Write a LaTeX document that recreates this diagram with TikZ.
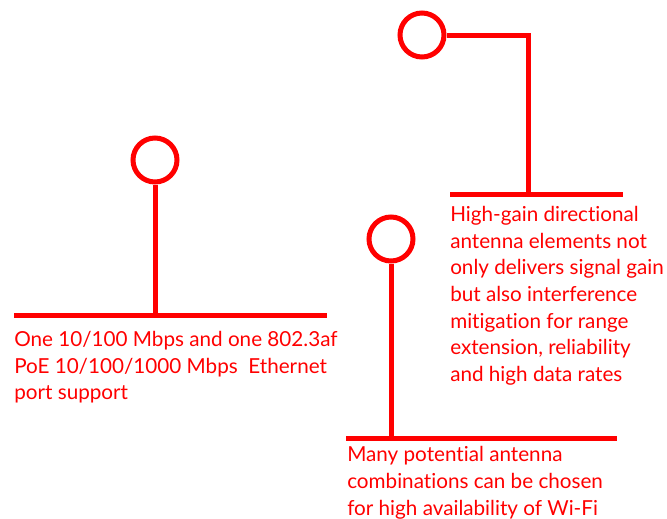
\documentclass[tikz,border=0pt]{standalone}
\usepackage{fontspec}
\setmainfont{Lato}[Ligatures={NoCommon}]
\definecolor{callred}{RGB}{255,0,0}
\tikzset{
  ring/.style={circle,draw=callred,line width=3.75pt,minimum size=33pt,inner sep=0pt},
  bar/.style={draw=callred,line width=3.75pt},
  caption/.style={anchor=north west,inner sep=0pt,align=left,text=callred,
    font=\fontsize{15.5}{20}\selectfont}
}
\begin{document}
\begin{tikzpicture}[x=0.75pt,y=-0.75pt]
	\useasboundingbox (0,0) rectangle (667,518);
	
	\begin{scope}[every node/.style={ring}]
		\node (r1) at (155,160) {};
		\node (r2) at (422,35) {};
		\node (r3) at (391,239) {};
	\end{scope}
	
	\coordinate (b1) at (155,315.5);
	\coordinate (l1) at (14,315.5);
	\coordinate (e1) at (327,315.5);
	\coordinate (k2) at (528,38);
	\coordinate (b2) at (528,194.5);
	\coordinate (l2) at (450,194.5);
	\coordinate (e2) at (623,194.5);
	\coordinate (b3) at (391,438);
	\coordinate (l3) at (346,438);
	\coordinate (e3) at (617,438);
	
	\begin{scope}[every path/.style={bar}]
		\path (l1) -- (e1);
		\path (r1) -- (b1);
		\path (l2) -- (e2);
		\path (r2) -- (r2 -| k2) -- (b2);
		\path (l3) -- (e3);
		\path (r3) -- (b3);
	\end{scope}
	
	\node [caption] (t1) at (14,331) {One 10/100 Mbps and one 802.3af\\PoE 10/100/1000 Mbps\ \ Ethernet\\port support};
	\node [caption] (t2) at (450,206) {High-gain directional\\antenna elements not\\only delivers signal gain\\but also interference\\mitigation for range\\extension, reliability\\and high data rates};
	\node [caption] (t3) at (347,446.5) {Many potential antenna\\combinations can be chosen\\for high availability of Wi-Fi};
\end{tikzpicture}
\end{document}
